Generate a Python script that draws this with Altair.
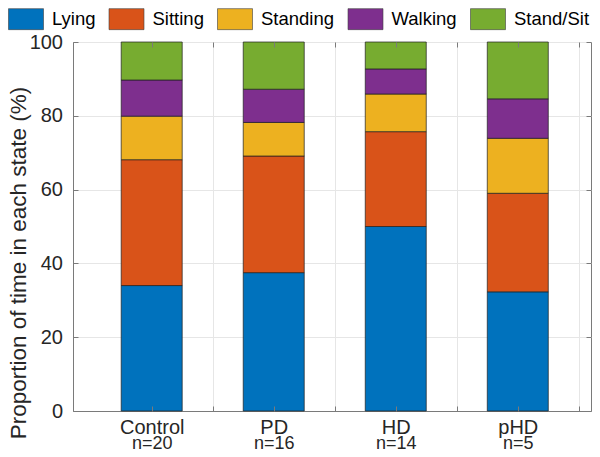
import altair as alt
import pandas as pd

groups = ["Control", "PD", "HD", "pHD"]
counts = ["n=20", "n=16", "n=14", "n=5"]
states = ["Lying", "Sitting", "Standing", "Walking", "Stand/Sit"]
colors = ["#0072BD", "#D95319", "#EDB120", "#7E2F8E", "#77AC30"]
lying = [34.0, 37.5, 50.0, 32.3]
sitting = [34.1, 31.6, 25.7, 26.7]
standing = [11.8, 9.1, 10.2, 14.9]
walking = [9.8, 9.0, 6.8, 10.7]
standsit = [10.3, 12.8, 7.3, 15.4]
x_ticks = [1, 1.5, 2, 2.5, 3, 3.5, 4, 4.5]
y_ticks = [0, 20, 40, 60, 80, 100]

series = [lying, sitting, standing, walking, standsit]
rows = []
for i, g in enumerate(groups):
    base = 0.0
    for j, s in enumerate(states):
        v = series[j][i]
        rows.append({"group": g, "x0": i + 1 - 0.25, "x1": i + 1 + 0.25,
                     "state": s, "order": j, "value": v, "y0": base, "y1": base + v})
        base += v
df = pd.DataFrame(rows)
dg = pd.DataFrame({"pos": [i + 1 for i in range(len(groups))], "v": [0] * len(groups)})

W, H = 518, 369
FONT = "Liberation Sans"
TXT = "#262626"
AX = "#7a7a7a"
GRID = "#e6e6e6"

xscale = alt.Scale(domain=[0.355, 4.6], nice=False, zero=False)
yscale = alt.Scale(domain=[0, 100], nice=False, zero=True)

name_expr = " : ".join(f"datum.value == {i + 1} ? '{g}'" for i, g in enumerate(groups)) + " : ''"
n_expr = " : ".join(f"datum.value == {i + 1} ? '{c}'" for i, c in enumerate(counts)) + " : ''"

bars = alt.Chart(df).mark_bar(stroke="#1f1f1f", strokeWidth=0.7, opacity=1).encode(
    x=alt.X("x0:Q", scale=xscale, axis=alt.Axis(
        values=x_ticks, labelExpr=name_expr, grid=True, gridColor=GRID, gridWidth=1,
        domain=True, domainColor=AX, domainWidth=1, ticks=False, tickSize=0,
        labelFont=FONT, labelFontSize=20, labelColor=TXT, labelPadding=6.5,
        labelOverlap=False, labelFlush=False, title=None, orient="bottom", zindex=0)),
    x2="x1:Q",
    y=alt.Y("y0:Q", scale=yscale, axis=alt.Axis(
        values=y_ticks, grid=True, gridColor=GRID, gridWidth=1,
        domain=True, domainColor=AX, domainWidth=1, ticks=False, tickSize=0,
        labelFont=FONT, labelFontSize=20, labelColor=TXT, labelPadding=10.5,
        labelOverlap=False, labelFlush=False,
        title="Proportion of time in each state (%)", titleFont=FONT, titleFontSize=22.5,
        titleFontWeight="normal", titleColor=TXT, titleAngle=270, titleX=-48, titleY=220.5,
        titleAlign="center", titleBaseline="alphabetic", orient="left", zindex=0)),
    y2="y1:Q",
    color=alt.Color("state:N", scale=alt.Scale(domain=states, range=colors), legend=alt.Legend(
        orient="none", legendX=-65, legendY=-41, direction="horizontal", columns=5,
        title=None, symbolType="M-1,-0.6H1V0.6H-1Z", symbolSize=1225,
        symbolStrokeColor="#404040", symbolStrokeWidth=0.6, symbolOpacity=1,
        labelFont=FONT, labelFontSize=18.5, labelColor="#000000", labelOffset=8,
        columnPadding=11.5, rowPadding=0, padding=0, labelLimit=0)),
    tooltip=["group", "state", "value"],
)

nlabels = alt.Chart(dg).mark_point(opacity=0).encode(
    x=alt.X("pos:Q", scale=xscale, axis=alt.Axis(
        values=[i + 1 for i in range(len(groups))], labelExpr=n_expr, domain=False, ticks=False,
        tickSize=0, grid=False, labelFont=FONT, labelFontSize=18, labelColor=TXT,
        labelPadding=23.3, labelOverlap=False, labelFlush=False, title=None, orient="bottom")),
    y=alt.Y("v:Q", scale=yscale, axis=None),
)

ticks_in = alt.Chart(dg).mark_point(opacity=0).encode(
    x=alt.X("pos:Q", scale=xscale, axis=alt.Axis(
        values=x_ticks, orient="top", offset=-H, domain=False, labels=False, grid=False,
        ticks=True, tickSize=5, tickColor=AX, tickWidth=1, title=None, zindex=1)),
    y=alt.Y("v:Q", scale=yscale, axis=alt.Axis(
        values=y_ticks, orient="right", offset=-W, domain=False, labels=False, grid=False,
        ticks=True, tickSize=5, tickColor=AX, tickWidth=1, title=None, zindex=1)),
)

frame = alt.Chart(dg).mark_point(opacity=0).encode(
    x=alt.X("pos:Q", scale=xscale, axis=alt.Axis(
        values=x_ticks, orient="bottom", offset=-H, domain=False,
        labels=False, grid=False, ticks=True, tickSize=5, tickColor=AX, tickWidth=1,
        title=None, zindex=1)),
    y=alt.Y("v:Q", scale=yscale, axis=alt.Axis(
        values=y_ticks, orient="left", offset=-W, domain=False,
        labels=False, grid=False, ticks=True, tickSize=5, tickColor=AX, tickWidth=1,
        title=None, zindex=1)),
)

chart = alt.layer(bars, nlabels, ticks_in, frame).resolve_axis(
    x="independent", y="independent"
).properties(
    width=W, height=H,
    padding={"left": 65, "top": 34, "right": 1, "bottom": 38},
    autosize=alt.AutoSizeParams(type="none"),
    background="white",
).configure_view(stroke=AX, strokeWidth=1)

chart.save("out.html", embed_options={"renderer": "svg", "actions": False})
